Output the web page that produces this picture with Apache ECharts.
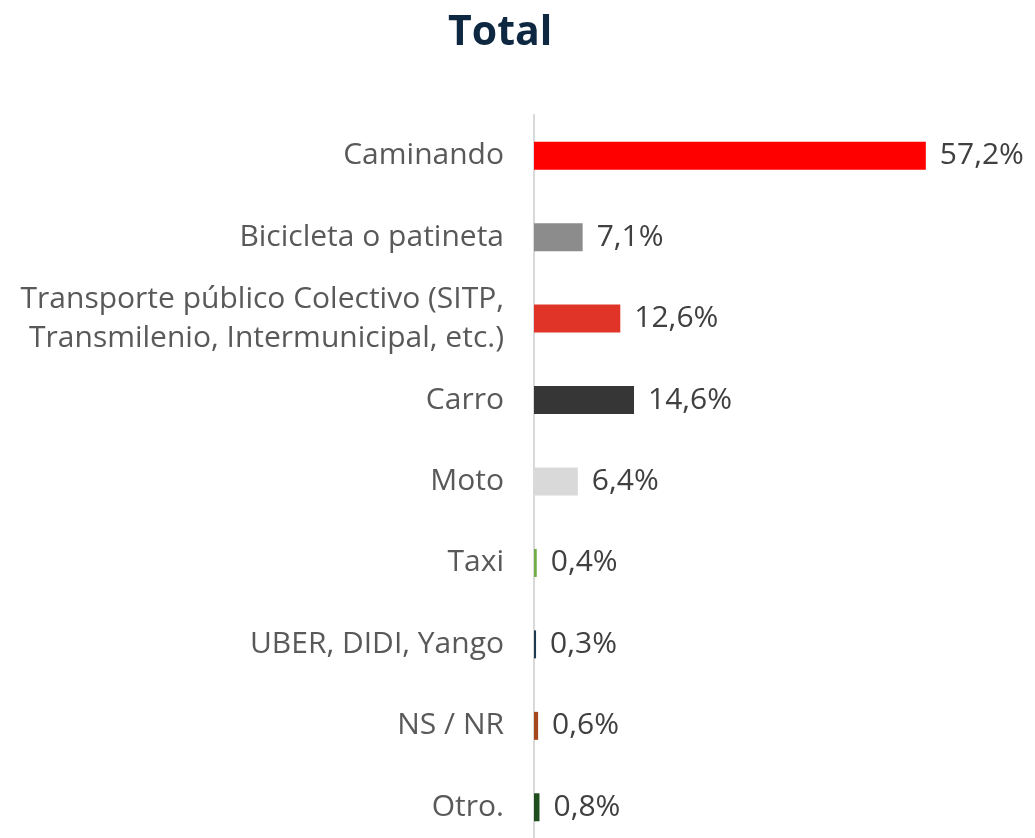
<!DOCTYPE html>
<html>
<head>
<meta charset="utf-8">
<script src="https://cdn.jsdelivr.net/npm/echarts@6/dist/echarts.min.js"></script>
<style>
  html, body { margin: 0; padding: 0; background: #fff; }
  #chart { width: 1035px; height: 838px; }
</style>
</head>
<body>
<div id="chart"></div>
<script>
const categories = ['Caminando', 'Bicicleta o patineta', 'Transporte público Colectivo (SITP,\nTransmilenio, Intermunicipal, etc.)', 'Carro', 'Moto', 'Taxi', 'UBER, DIDI, Yango', 'NS / NR', 'Otro.'];
const values = [57.2, 7.1, 12.6, 14.6, 6.4, 0.4, 0.3, 0.6, 0.8];
const barColors = ['#ff0000', '#8c8c8c', '#e03428', '#363636', '#d9d9d9', '#70ad47', '#1f3a4f', '#a5471c', '#1e4d1e'];

const chart = echarts.init(document.getElementById('chart'));

const option = {
  animation: false,
  title: {
    text: 'Total',
    left: 443,
    top: 8,
    textStyle: {
      fontFamily: 'Open Sans',
      fontSize: 41,
      fontWeight: 'bold',
      color: '#0e2841'
    }
  },
  grid: {
    left: 534,
    top: 115,
    width: 411,
    height: 733,
    outerBoundsMode: 'none'
  },
  xAxis: {
    type: 'value',
    min: 0,
    max: 60,
    show: false
  },
  yAxis: {
    type: 'category',
    inverse: true,
    data: categories,
    axisTick: { show: false },
    axisLine: { lineStyle: { color: '#d9d9d9', width: 2 } },
    axisLabel: {
      margin: 30,
      fontFamily: 'Open Sans',
      fontSize: 30,
      lineHeight: 39,
      color: '#595959'
    }
  },
  series: [{
    type: 'bar',
    barWidth: 28,
    data: values.map((v, i) => ({ value: v, itemStyle: { color: barColors[i] } })),
    label: {
      show: true,
      position: 'right',
      distance: 14,
      fontFamily: 'Open Sans',
      fontSize: 30,
      color: '#404040',
      formatter: p => p.value.toFixed(1).replace('.', ',') + '%'
    }
  }]
};

chart.setOption(option);
</script>
</body>
</html>
